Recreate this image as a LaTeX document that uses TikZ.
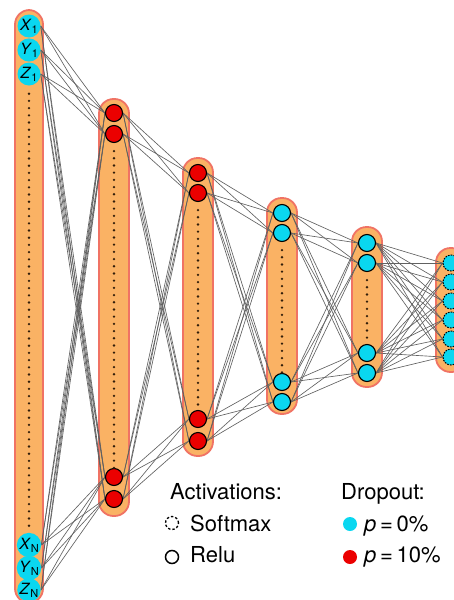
\documentclass[tikz,border=0pt]{standalone}
\usepackage{fontspec}
\setmainfont{TeX Gyre Heros}
\definecolor{pillfill}{RGB}{250,178,100}
\definecolor{pillrim}{RGB}{240,115,100}
\definecolor{neuroncyan}{RGB}{10,215,240}
\definecolor{neuronred}{RGB}{235,0,0}
\definecolor{dotbrown}{RGB}{50,30,10}
\pgfdeclarelayer{pills}
\pgfdeclarelayer{wires}
\pgfsetlayers{pills,wires,main}
\tikzset{
  pill/.style={fill=pillfill, draw=pillrim, line width=1.8pt, rounded corners=14.5pt},
  inunit/.style={circle, fill=neuroncyan, draw=none, minimum size=23pt, inner sep=0pt,
    font=\fontsize{15.5}{15.5}\selectfont},
  hidunit/.style={circle, draw=black, line width=1.1pt, minimum size=17pt, inner sep=0pt},
  redunit/.style={hidunit, fill=neuronred},
  cyanunit/.style={hidunit, fill=neuroncyan},
  softunit/.style={circle, draw=black, line width=1pt, dash pattern=on 1.6pt off 1.2pt,
    fill=neuroncyan, minimum size=16pt, inner sep=0pt},
  wire/.style={draw=black!62, line width=0.65pt},
  dotcol/.style={draw=dotbrown, line width=2.6pt, line cap=round, dash pattern=on 0pt off 7.2pt},
  legtext/.style={anchor=base west, inner sep=0pt, font=\fontsize{22}{26}\selectfont},
}
\newcommand{\sublabel}[2]{\textit{#1}\raisebox{-0.4ex}{\fontsize{11}{11}\selectfont #2}}
\begin{document}
\begin{tikzpicture}[x=1pt, y=-1pt]
  \useasboundingbox (0,0) rectangle (454,600);
  \clip (0,0) rectangle (454,600);

  % layer columns
  \begin{pgfonlayer}{pills}
  \draw[pill] (15,10) rectangle (43,603);
  \draw[pill] (99,99) rectangle (129,516);
  \draw[pill] (183,158) rectangle (213,456);
  \draw[pill] (267,198) rectangle (297,414);
  \draw[pill] (352,227) rectangle (382,387);
  \draw[pill] (436,248) rectangle (466,372);
  \end{pgfonlayer}

  % input units
  \node[inunit] (a1) at (29,26)  {\sublabel{X}{1}};
  \node[inunit] (a2) at (29,50)  {\sublabel{Y}{1}};
  \node[inunit] (a3) at (29,74)  {\sublabel{Z}{1}};
  \node[inunit] (a4) at (29,545) {\sublabel{X}{N}};
  \node[inunit] (a5) at (29,568) {\sublabel{Y}{N}};
  \node[inunit] (a6) at (29,590) {\sublabel{Z}{N}};

  % hidden units
  \node[redunit] (b1) at (114,113) {};
  \node[redunit] (b2) at (114,134) {};
  \node[redunit] (b3) at (114,477) {};
  \node[redunit] (b4) at (114,499) {};

  \node[redunit] (c1) at (198,173) {};
  \node[redunit] (c2) at (198,193) {};
  \node[redunit] (c3) at (198,419) {};
  \node[redunit] (c4) at (198,441) {};

  \node[cyanunit] (d1) at (282,213) {};
  \node[cyanunit] (d2) at (282,233) {};
  \node[cyanunit] (d3) at (282,382) {};
  \node[cyanunit] (d4) at (282,402) {};

  \node[cyanunit] (e1) at (367,243) {};
  \node[cyanunit] (e2) at (367,263) {};
  \node[cyanunit] (e3) at (367,353) {};
  \node[cyanunit] (e4) at (367,373) {};

  % output units
  \foreach \i/\yy in {1/263,2/282,3/301,4/320,5/339,6/357}
    \node[softunit] (f\i) at (451,\yy) {};

  % connections: right side of each unit to left side of the next
  \begin{pgfonlayer}{wires}
  \foreach \p in {1,...,6}
    \foreach \q in {1,...,4}
      \draw[wire] (a\p.east) -- (b\q.west);
  \foreach \p in {1,...,4}
    \foreach \q in {1,...,4}
      {\draw[wire] (b\p.east) -- (c\q.west);
       \draw[wire] (c\p.east) -- (d\q.west);
       \draw[wire] (d\p.east) -- (e\q.west);}
  \foreach \p in {1,...,4}
    \foreach \q in {1,...,6}
      \draw[wire] (e\p.east) -- (f\q.west);
  \end{pgfonlayer}

  % elided units
  \draw[dotcol] ([yshift=-8pt]a3.south) -- (a4.north);
  \draw[dotcol] ([yshift=-8pt]b2.south) -- (b3.north);
  \draw[dotcol] ([yshift=-8pt]c2.south) -- (c3.north);
  \draw[dotcol] ([yshift=-8pt]d2.south) -- (d3.north);
  \draw[dotcol] ([yshift=-8pt]e2.south) -- (e3.north);

  % legend
  \node[legtext] (acttitle) at (170,499) {Activations:};
  \node[legtext] (droptitle) at (341,499) {Dropout:};
  \node[circle, draw=black, line width=1.3pt, dash pattern=on 2.4pt off 2pt,
        minimum size=13pt, inner sep=0pt] (softkey) at (172,523) {};
  \node[legtext] (softtext) at (190,531) {Softmax};
  \node[circle, draw=black, line width=1.5pt, minimum size=13pt, inner sep=0pt]
        (relukey) at (172,557) {};
  \node[legtext] (relutext) at (190,562) {Relu};
  \node[circle, fill=neuroncyan, minimum size=14pt, inner sep=0pt] (p0key) at (350,524) {};
  \node[legtext] (p0text) at (364,531) {\textit{p}\,=\,0\%};
  \node[circle, fill=neuronred, minimum size=14pt, inner sep=0pt] (p10key) at (350,557) {};
  \node[legtext] (p10text) at (364,562) {\textit{p}\,=\,10\%};
\end{tikzpicture}
\end{document}
